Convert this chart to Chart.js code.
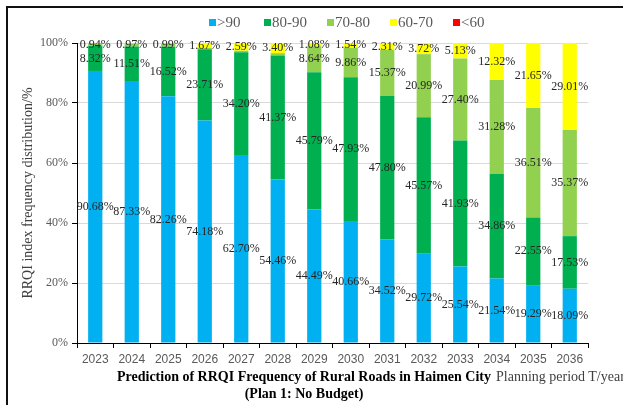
<!DOCTYPE html>
<html>
<head>
<meta charset="utf-8">
<script src="https://cdn.jsdelivr.net/npm/chart.js@4"></script>
<style>
  html, body { margin: 0; padding: 0; background: #fff; overflow: hidden; }
  #wrap { position: relative; width: 623px; height: 405px; overflow: hidden; }
  #frame { position: absolute; left: 6px; top: 6px; width: 700px; height: 500px; border: 2px solid #111; box-sizing: border-box; }
  canvas { position: absolute; left: 0; top: 0; }
  .legend-item { position: absolute; top: 13px; font: 15px "Liberation Serif", serif; color: #595959; line-height: 18px; white-space: nowrap; }
  .legend-item i { display: inline-block; width: 7px; height: 7px; margin-right: 1px; vertical-align: 1px; }
  #xtitle { position: absolute; left: 104px; width: 400px; top: 368px; text-align: center; font: bold 14px "Liberation Serif", serif; line-height: 17px; color: #000; }
  #period { position: absolute; left: 496px; top: 369px; font: 14px "Liberation Serif", serif; color: #404040; white-space: nowrap; }
</style>
</head>
<body>
<div id="wrap">
  <div id="frame"></div>
  <canvas id="rrqiChart" width="623" height="405"></canvas>
  <div id="legend"></div>
  <div id="xtitle">Prediction of RRQI Frequency of Rural Roads in Haimen City<br>(Plan 1: No Budget)</div>
  <div id="period">Planning period T/year</div>
</div>
<script>
// RRQI distribution per year, in percent
const years = ['2023', '2024', '2025', '2026', '2027', '2028', '2029', '2030', '2031', '2032', '2033', '2034', '2035', '2036'];
const above90 = [90.68, 87.33, 82.26, 74.18, 62.70, 54.46, 44.49, 40.66, 34.52, 29.72, 25.54, 21.54, 19.29, 18.09];
const from80to90 = [8.32, 11.51, 16.52, 23.71, 34.20, 41.37, 45.79, 47.93, 47.80, 45.57, 41.93, 34.86, 22.55, 17.53];
const from70to80 = [0.94, 0.97, 0.99, 0.44, 0.51, 0.77, 8.64, 9.86, 15.37, 20.99, 27.40, 31.28, 36.51, 35.37];
const from60to70 = [0.06, 0.19, 0.23, 1.67, 2.59, 3.40, 1.08, 1.54, 2.31, 3.72, 5.13, 12.32, 21.65, 29.01];
const below60 = [0, 0, 0, 0, 0, 0, 0, 0, 0, 0, 0, 0, 0, 0];
const yTicks = [0, 20, 40, 60, 80, 100];

const seriesNames = ['>90', '80-90', '70-80', '60-70', '<60'];
const seriesColors = ['#00B0F0', '#00B050', '#92D050', '#FFFF00', '#FF0000'];
const seriesData = [above90, from80to90, from70to80, from60to70, below60];

// legend in html, positions
const legendX = [209, 264, 327, 390, 453];
const legendBox = document.getElementById('legend');
seriesNames.forEach((name, i) => {
    const item = document.createElement('div');
    item.className = 'legend-item';
    item.style.left = legendX[i] + 'px';
    item.innerHTML = '<i style="background:' + seriesColors[i] + '"></i>';
    item.appendChild(document.createTextNode(name));
    legendBox.appendChild(item);
});

// percentage labels in the middle of each segment
const segmentLabels = {
    id: 'segmentLabels',
    afterDatasetsDraw(chart) {
        const ctx = chart.ctx;
        ctx.save();
        ctx.font = '12px "Liberation Serif", serif';
        ctx.fillStyle = '#262626';
        ctx.textAlign = 'center';
        ctx.textBaseline = 'middle';
        chart.data.datasets.forEach((ds, i) => {
            chart.getDatasetMeta(i).data.forEach((bar, j) => {
                const v = ds.data[j];
                if (v < 0.9) return;
                ctx.fillText(v.toFixed(2) + '%', bar.x, (bar.y + bar.base) / 2);
            });
        });
        ctx.restore();
    }
};

const rrqiChart = new Chart(document.getElementById('rrqiChart'), {
    type: 'bar',
    data: {
        labels: years,
        datasets: seriesNames.map((name, i) => ({
            label: name,
            data: seriesData[i],
            backgroundColor: seriesColors[i],
            barPercentage: 0.39,
            categoryPercentage: 1
        }))
    },
    options: {
        responsive: false,
        animation: false,
        layout: { padding: { left: 0, right: 35, top: 43, bottom: 0 } },
        plugins: {
            legend: { display: false },
            tooltip: { enabled: false }
        },
        scales: {
            x: {
                stacked: true,
                offset: true,
                afterFit: (s) => { s.height = 62; },
                grid: { display: true, drawOnChartArea: false, offset: true, tickLength: 5, tickColor: '#000' },
                border: { color: '#000', width: 1 },
                ticks: { color: '#595959', padding: 4, font: { family: '"Liberation Sans", sans-serif', size: 12 } }
            },
            y: {
                stacked: true,
                min: 0,
                max: 100,
                afterFit: (s) => { s.width = 77; },
                afterBuildTicks: (s) => { s.ticks = yTicks.map(v => ({ value: v })); },
                grid: { color: '#d9d9d9', tickColor: '#000', tickLength: 5 },
                border: { color: '#000', width: 1 },
                ticks: {
                    color: '#595959',
                    padding: 4,
                    font: { family: '"Liberation Serif", serif', size: 12 },
                    callback: (v) => v + '%'
                },
                title: {
                    display: true,
                    text: 'RRQI index frequency distribution/%',
                    color: '#404040',
                    padding: { top: 20 },
                    font: { family: '"Liberation Serif", serif', size: 14 }
                }
            }
        }
    },
    plugins: [segmentLabels]
});
</script>
</body>
</html>
